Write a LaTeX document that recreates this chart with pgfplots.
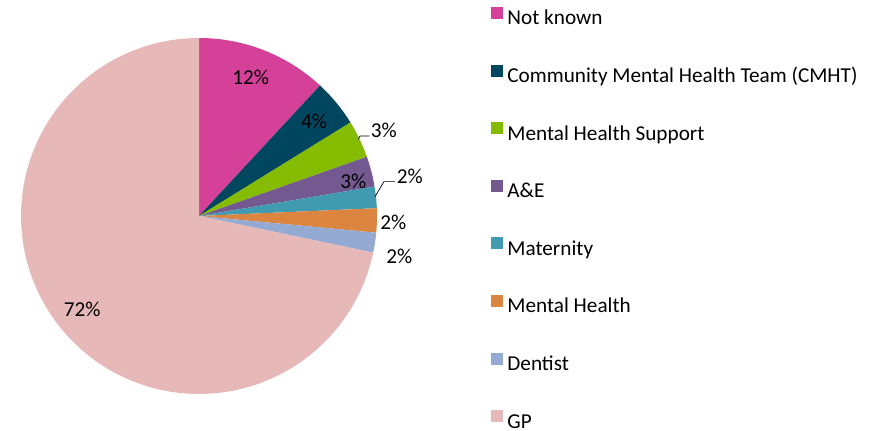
\documentclass[border=0pt]{standalone}
\usepackage{fontspec}
\setmainfont{Carlito}
\usepackage{pgfplots}
\pgfplotsset{compat=1.18}

\definecolor{cNK}{RGB}{213,64,152}
\definecolor{cCM}{RGB}{0,70,94}
\definecolor{cMS}{RGB}{134,188,0}
\definecolor{cAE}{RGB}{116,89,145}
\definecolor{cMa}{RGB}{64,155,176}
\definecolor{cMH}{RGB}{220,133,64}
\definecolor{cDe}{RGB}{148,170,210}
\definecolor{cGP}{RGB}{230,184,183}

\newcommand{\lblfont}{\fontsize{21.3pt}{24pt}\selectfont}

% percentages (clockwise from 12 o'clock): start and end of each slice
% Not known 11.9, CMHT 4.3, MH Support 3.4, A&E 2.75, Maternity 1.95,
% Mental Health 2.2, Dentist 1.8, GP 71.7
\newcommand{\slice}[3]{%
  \addplot[fill=#3, draw=none, domain={#1*3.6}:{#2*3.6}, samples=120, variable=\t]
    ({sin(\t)},{cos(\t)}) -- (axis cs:0,0) -- cycle;
}

\begin{document}
\begin{tikzpicture}
\useasboundingbox (0,0) rectangle (876bp,431bp);
\begin{axis}[
  at={(199bp,215bp)}, anchor=center,
  width=356bp, height=356bp, scale only axis,
  hide axis,
  xmin=-1, xmax=1, ymin=-1, ymax=1,
  clip=false,
  legend cell align=left,
  legend image code/.code={\fill[#1] (0bp,0.8bp) rectangle (12bp,12.8bp);},
  legend style={at={(axis description cs:1.32,1.087)}, anchor=north west,
    draw=none, fill=none, inner sep=0pt, outer sep=0pt,
    row sep=35.8bp, column sep=4.5bp,
    font=\lblfont,
    nodes={inner sep=0pt, text height=14bp, text depth=4bp}},
]
\slice{0}{11.9}{cNK}
\addlegendentry{Not known}
\slice{11.9}{16.2}{cCM}
\addlegendentry{Community Mental Health Team (CMHT)}
\slice{16.2}{19.6}{cMS}
\addlegendentry{Mental Health Support}
\slice{19.6}{22.35}{cAE}
\addlegendentry{A\&E}
\slice{22.35}{24.3}{cMa}
\addlegendentry{Maternity}
\slice{24.3}{26.5}{cMH}
\addlegendentry{Mental Health}
\slice{26.5}{28.3}{cDe}
\addlegendentry{Dentist}
\slice{28.3}{100}{cGP}
\addlegendentry{GP}

\addplot[black, line width=0.7pt, forget plot] coordinates {(0.895,0.431) (0.904,0.449) (0.957,0.449)};
\addplot[black, line width=0.7pt, forget plot] coordinates {(0.989,0.109) (1.039,0.193) (1.101,0.193)};

\node[font=\lblfont] at (axis cs:0.290,0.778) {12\%};
\node[font=\lblfont] at (axis cs:0.646,0.530) {4\%};
\node[font=\lblfont] at (axis cs:1.039,0.483) {3\%};
\node[font=\lblfont] at (axis cs:0.867,0.193) {3\%};
\node[font=\lblfont] at (axis cs:1.185,0.225) {2\%};
\node[font=\lblfont] at (axis cs:1.092,-0.037) {2\%};
\node[font=\lblfont] at (axis cs:1.125,-0.225) {2\%};
\node[font=\lblfont] at (axis cs:-0.656,-0.524) {72\%};
\end{axis}
\end{tikzpicture}
\end{document}
